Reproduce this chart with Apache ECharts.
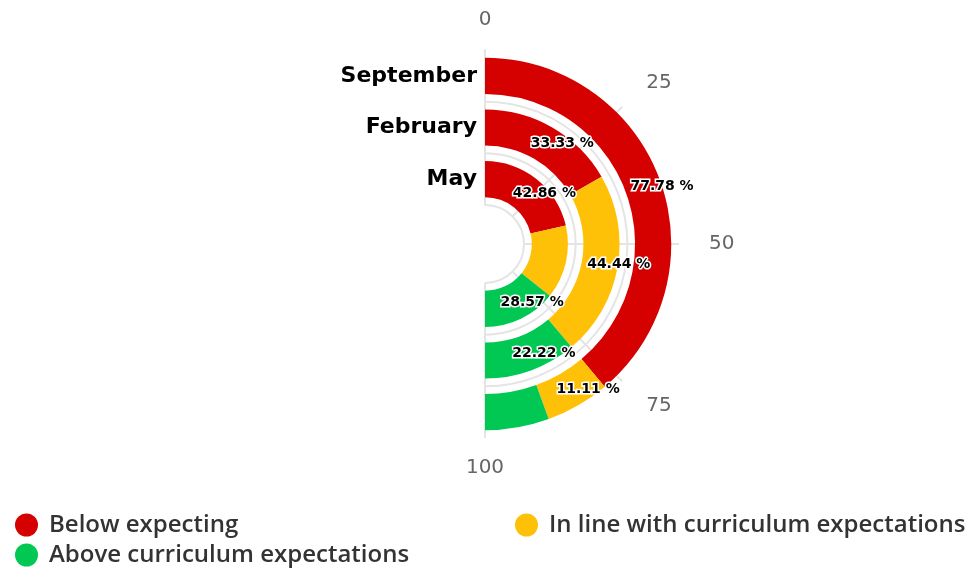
<!DOCTYPE html>
<html>
<head>
<meta charset="utf-8">
<script src="https://cdn.jsdelivr.net/npm/echarts@6/dist/echarts.min.js"></script>
<style>
  html, body { margin: 0; padding: 0; background: #fff; }
  #chart { width: 970px; height: 571px; }
</style>
</head>
<body>
<div id="chart"></div>
<script>
// rings, inner to outer
var months = ['May', 'February', 'September'];
var seriesNames = ['Below expecting', 'In line with curriculum expectations', 'Above curriculum expectations'];
var below = [42.86, 33.33, 77.78];
var inLine = [28.57, 44.44, 11.11];
var above = [28.57, 22.22, 11.11];
var angleTicks = [0, 25, 50, 75, 100];
// labels that the original does not show
var hiddenLabels = [[], ['May'], ['September']];

var colors = ['#d50000', '#ffc107', '#00c853'];
var gridGrey = '#e4e4e4';

var chart = echarts.init(document.getElementById('chart'));

function makeSeries(i, values) {
  return {
    name: seriesNames[i],
    type: 'bar',
    coordinateSystem: 'polar',
    stack: 'total',
    barCategoryGap: '30%',
    itemStyle: { color: colors[i] },
    label: {
      show: true,
      position: 'middle',
      rotate: 0,
      offset: [19, 0],
      formatter: '{c} %',
      fontFamily: 'DejaVu Sans',
      fontSize: 14,
      fontWeight: 'bold',
      color: '#000',
      textBorderColor: '#fff',
      textBorderWidth: 3
    },
    data: values.map(function (v, j) {
      var item = { value: v };
      if (hiddenLabels[i].indexOf(months[j]) >= 0) item.label = { show: false };
      return item;
    })
  };
}

function legendAt(left, top, names) {
  return {
    orient: 'vertical',
    left: left,
    top: top,
    height: 60,
    icon: 'circle',
    itemWidth: 23,
    itemHeight: 23,
    itemGap: 6,
    textStyle: {
      fontFamily: 'Open Sans',
      fontWeight: 600,
      fontSize: 24,
      lineHeight: 23,
      color: '#333',
      padding: [0, 0, 0, 6]
    },
    data: names
  };
}

var option = {
  animation: false,
  polar: {
    center: ['50%', 244],
    radius: [39, 194]
  },
  angleAxis: {
    type: 'value',
    min: angleTicks[0],
    max: angleTicks[angleTicks.length - 1],
    interval: angleTicks[1] - angleTicks[0],
    startAngle: 90,
    endAngle: -90,
    clockwise: true,
    axisLine: { show: false },
    axisTick: { show: false },
    axisLabel: {
      margin: 20,
      fontFamily: 'DejaVu Sans',
      fontSize: 20,
      color: '#666',
      formatter: function (v) {
        var ends = v === angleTicks[0] || v === angleTicks[angleTicks.length - 1];
        return ends ? String(v) : '{side|' + v + '}';
      },
      rich: {
        side: { fontFamily: 'DejaVu Sans', fontSize: 20, color: '#666', padding: [0, 0, 0, 10] }
      }
    },
    splitLine: { show: true, lineStyle: { color: gridGrey, width: 2 } }
  },
  radiusAxis: {
    type: 'category',
    data: months,
    axisLine: { show: true, lineStyle: { color: gridGrey, width: 2 } },
    axisTick: { show: false },
    axisLabel: {
      interval: 0,
      fontFamily: 'DejaVu Sans',
      fontSize: 22,
      fontWeight: 'bold',
      color: '#000'
    },
    // no ring on the outer edge
    splitLine: { show: true, lineStyle: { color: [gridGrey, gridGrey, gridGrey, 'rgba(0,0,0,0)'], width: 2 } }
  },
  legend: [
    legendAt(10, 508, [seriesNames[0], seriesNames[2]]),
    legendAt(510, 508, [seriesNames[1]])
  ],
  series: [
    makeSeries(0, below),
    makeSeries(1, inLine),
    makeSeries(2, above)
  ]
};

chart.setOption(option);
</script>
</body>
</html>
